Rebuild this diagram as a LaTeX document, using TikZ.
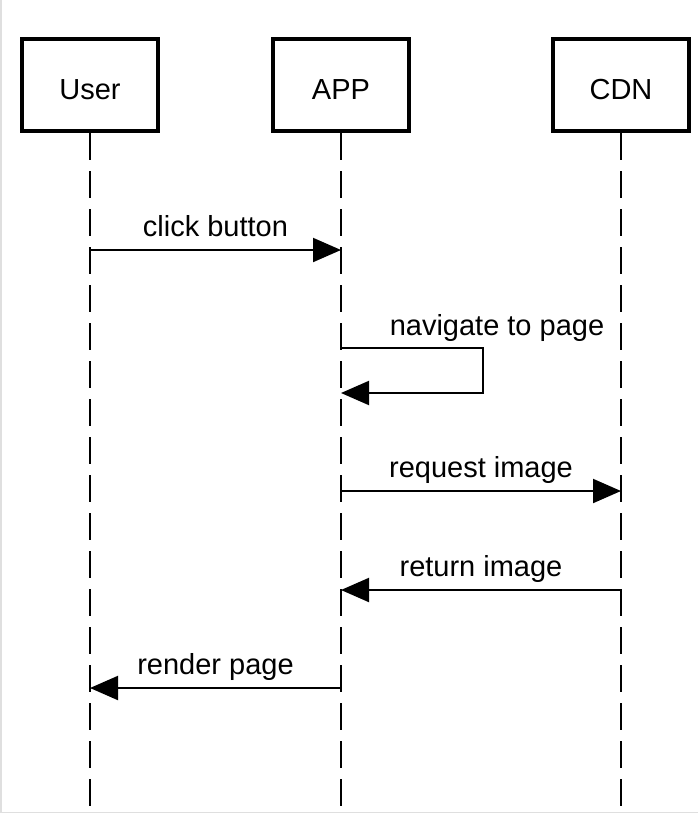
\documentclass[tikz,border=0pt]{standalone}
\usepackage{fontspec}
\setmainfont{Liberation Sans}
\usetikzlibrary{arrows.meta,positioning}
\begin{document}
\begin{tikzpicture}[x=0.5pt,y=-0.5pt,
	actor/.style={draw,line width=2.2pt,minimum width=68pt,minimum height=46pt,inner sep=0pt,text height=14.4pt,text depth=0pt},
	lifeline/.style={line width=1pt,dash pattern=on 13.5pt off 5.5pt},
	msg/.style={line width=1pt,-{Triangle[length=14pt,width=12pt]}},
	msglabel/.style={anchor=base,inner sep=0pt}]
	\fontsize{14.5}{17}\selectfont
	\useasboundingbox (0,0) rectangle (698,813);
	\draw[gray!25,line width=1pt] (0.5,0)--(0.5,812.5)--(698,812.5);
	
	%Actors
	\node[actor] at (90,85) (user) {User};
	\node[actor] at (341,85) (app) {APP};
	\node[actor] at (621,85) (cdn) {CDN};
	
	%Lifelines
	\coordinate (userend) at (90,813);
	\coordinate (append) at (341,813);
	\coordinate (cdnend) at (621,813);
	\draw[lifeline] (user.south)--(userend);
	\draw[lifeline] (app.south)--(append);
	\draw[lifeline] (cdn.south)--(cdnend);
	
	%Message points
	\coordinate (u1) at (90,250);  \coordinate (a1) at (341,250);
	\coordinate (a2) at (341,348); \coordinate (s2) at (483,348);
	\coordinate (t2) at (483,393); \coordinate (b2) at (341,393);
	\coordinate (a3) at (341,491); \coordinate (c3) at (621,491);
	\coordinate (c4) at (621,590); \coordinate (a4) at (341,590);
	\coordinate (a5) at (341,688); \coordinate (u5) at (90,688);
	
	%Messages
	\draw[msg] (u1)--(a1) node[msglabel,midway,yshift=7pt] {click button};
	\draw[msg] (a2)--(s2)--(t2)--(b2);
	\node[msglabel] at (497,335) (navlabel) {navigate to page};
	\draw[msg] (a3)--(c3) node[msglabel,midway,yshift=7pt] {request image};
	\draw[msg] (c4)--(a4) node[msglabel,midway,yshift=7pt] {return image};
	\draw[msg] (a5)--(u5) node[msglabel,midway,yshift=7pt] {render page};
	
\end{tikzpicture}
\end{document}
